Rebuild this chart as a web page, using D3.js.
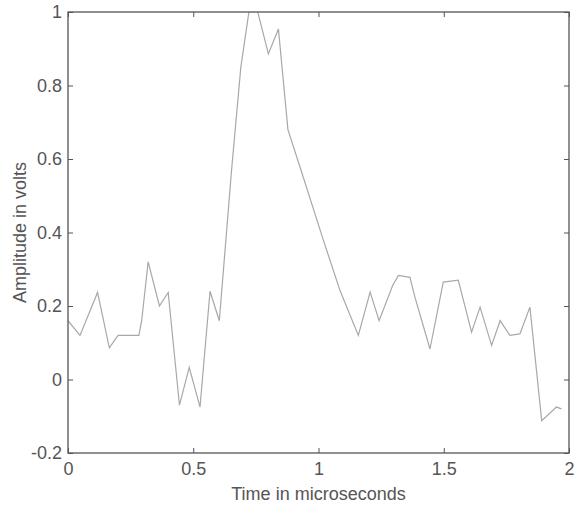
<!DOCTYPE html>
<meta charset="utf-8">
<style>
body { margin: 0; background: #fff; }
text { font-family: "Liberation Sans", Arial, sans-serif; fill: #555; }
.axis text { font-size: 18px; }
.axis line { stroke: #555; }
.axis path { display: none; }
</style>
<svg width="575" height="510"></svg>
<script src="https://d3js.org/d3.v7.min.js"></script>
<script>

// sample times (microseconds) and amplitudes (volts)
var time = [0, 0.048, 0.118, 0.165, 0.2, 0.283, 0.294, 0.32, 0.365, 0.4,
  0.445, 0.484, 0.527, 0.567, 0.604, 0.653, 0.69, 0.735, 0.8, 0.84,
  0.878, 0.93, 1.02, 1.086, 1.159, 1.206, 1.242, 1.296, 1.319, 1.365,
  1.385, 1.445, 1.498, 1.558, 1.572, 1.611, 1.645, 1.691, 1.725, 1.764,
  1.804, 1.844, 1.891, 1.95, 1.97];
var amplitude = [0.16, 0.12, 0.237, 0.086, 0.12, 0.12, 0.16, 0.32, 0.2, 0.237,
  -0.07, 0.033, -0.075, 0.24, 0.16, 0.57, 0.85, 1.06, 0.886, 0.954,
  0.68, 0.57, 0.378, 0.242, 0.12, 0.238, 0.16, 0.256, 0.283, 0.278,
  0.224, 0.083, 0.265, 0.27, 0.233, 0.129, 0.197, 0.093, 0.16, 0.12,
  0.124, 0.197, -0.112, -0.075, -0.08];

var xTicks = [0, 0.5, 1, 1.5, 2];
var yTicks = [-0.2, 0, 0.2, 0.4, 0.6, 0.8, 1];

var svg = d3.select("svg");

var x = d3.scaleLinear().domain([0, 2]).range([68, 569]);
var y = d3.scaleLinear().domain([-0.2, 1]).range([453, 12]);

var fmt = function(d) { return String(+d.toFixed(1)); };

// clip so the peak is cut by the top of the box
svg.append("clipPath").attr("id", "clip")
  .append("rect")
    .attr("x", x(0)).attr("y", y(1))
    .attr("width", x(2) - x(0)).attr("height", y(-0.2) - y(1));

var pts = time.map(function(t, i) { return [t, amplitude[i]]; });

svg.append("path")
    .datum(pts)
    .attr("clip-path", "url(#clip)")
    .attr("fill", "none")
    .attr("stroke", "#a8a8a8")
    .attr("stroke-width", 1.2)
    .attr("d", d3.line()
      .x(function(d) { return x(d[0]); })
      .y(function(d) { return y(d[1]); }));

// axes with inward ticks on all four sides
svg.append("g").attr("class", "axis")
    .attr("transform", "translate(0," + y(-0.2) + ")")
    .call(d3.axisBottom(x).tickValues(xTicks).tickFormat(fmt)
      .tickSize(-5).tickSizeOuter(0).tickPadding(9));

svg.append("g").attr("class", "axis")
    .attr("transform", "translate(0," + y(1) + ")")
    .call(d3.axisTop(x).tickValues(xTicks).tickFormat("")
      .tickSize(-5).tickSizeOuter(0));

svg.append("g").attr("class", "axis")
    .attr("transform", "translate(" + x(0) + ",0)")
    .call(d3.axisLeft(y).tickValues(yTicks).tickFormat(fmt)
      .tickSize(-5).tickSizeOuter(0).tickPadding(6));

svg.append("g").attr("class", "axis")
    .attr("transform", "translate(" + x(2) + ",0)")
    .call(d3.axisRight(y).tickValues(yTicks).tickFormat("")
      .tickSize(-5).tickSizeOuter(0));

// box
svg.append("rect")
    .attr("x", x(0)).attr("y", y(1))
    .attr("width", x(2) - x(0)).attr("height", y(-0.2) - y(1))
    .attr("fill", "none")
    .attr("stroke", "#555")
    .attr("stroke-width", 1.3);

svg.append("text")
    .attr("x", (x(0) + x(2)) / 2)
    .attr("y", 500)
    .attr("text-anchor", "middle")
    .style("font-size", "18px")
    .text("Time in microseconds");

svg.append("text")
    .attr("transform", "translate(26," + (y(-0.2) + y(1)) / 2 + ") rotate(-90)")
    .attr("text-anchor", "middle")
    .style("font-size", "18px")
    .text("Amplitude in volts");

</script>
